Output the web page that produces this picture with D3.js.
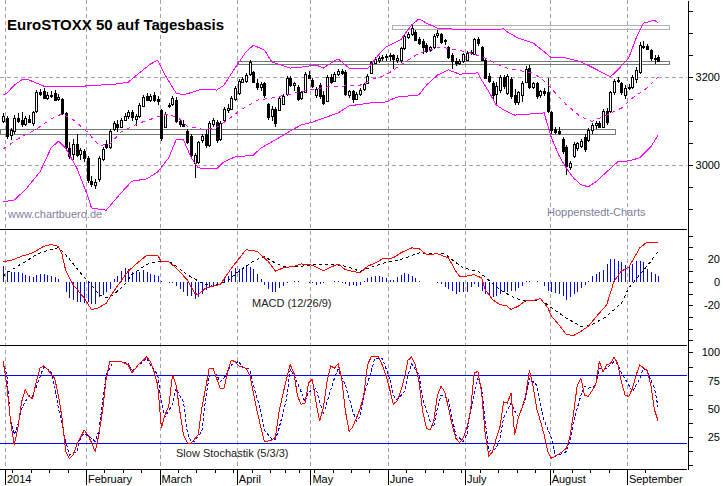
<!DOCTYPE html>
<html>
<head>
<meta charset="utf-8">
<script src="https://cdn.jsdelivr.net/npm/d3@7"></script>
<style>
  body { margin: 0; background: #fff; }
  svg { display: block; font-family: "Liberation Sans", Arial, sans-serif; }
</style>
</head>
<body>
<div id="chart"></div>
<script>
// Chart size and panel layout
const WIDTH = 723;
const HEIGHT = 486;
const PLOT_RIGHT = 687;
const MAIN = { top: 0, bottom: 229 };
const MACD = { top: 229, bottom: 345 };
const STOCH = { top: 345, bottom: 469 };

// Trading calendar (Dec 30 2013 .. Sep 11 2014, exchange holidays left out)
const firstDay = "2013-12-30";
const lastDay = "2014-09-11";
const holidays = ["2013-12-31", "2014-01-01", "2014-04-18", "2014-04-21", "2014-05-01"];

// Daily candles (index 0 = Dec 30 2013)
const opens = [
  3100,3108,3068,3078,3108,3104,3094,3106,3094,3122,
  3166,3170,3154,3160,3165,3152,3150,3118,3040,3025,
  3048,3026,3032,3016,2964,2956,2968,3016,3048,3042,
  3082,3094,3088,3104,3112,3120,3106,3112,3136,3158,
  3150,3160,3150,3126,3086,3136,3138,3148,3100,3094,
  3078,3066,3006,3006,3058,3072,3046,3094,3098,3060,
  3104,3126,3130,3150,3164,3190,3192,3206,3212,3188,
  3178,3186,3140,3112,3128,3126,3140,3162,3198,3182,
  3178,3152,3168,3206,3194,3160,3182,3160,3146,3200,
  3192,3208,3214,3212,3158,3168,3150,3162,3172,3188,
  3210,3234,3240,3244,3246,3248,3250,3240,3238,3266,
  3292,3298,3304,3288,3282,3274,3262,3268,3296,3298,
  3282,3268,3250,3236,3232,3236,3240,3256,3252,3286,
  3270,3240,3202,3188,3162,3170,3200,3166,3196,3160,
  3144,3160,3190,3222,3178,3186,3158,3168,3166,3120,
  3082,3078,3060,3042,2998,3020,3038,3044,3064,3058,
  3080,3092,3096,3088,3124,3122,3166,3192,3186,3160,
  3178,3178,3196,3212,3272,3272,3262,3244,3246
];
const highs = [
  3118,3112,3085,3114,3118,3120,3112,3114,3124,3172,
  3174,3176,3166,3168,3172,3162,3152,3120,3052,3060,
  3072,3040,3038,3022,2976,2968,3022,3042,3058,3082,
  3100,3102,3108,3118,3125,3126,3116,3142,3160,3164,
  3162,3166,3158,3128,3120,3142,3158,3156,3106,3102,
  3082,3072,3028,3056,3072,3080,3100,3108,3104,3100,
  3132,3140,3158,3180,3196,3200,3210,3240,3214,3196,
  3190,3190,3142,3134,3132,3158,3162,3202,3202,3190,
  3182,3170,3212,3214,3198,3178,3186,3170,3206,3208,
  3212,3218,3220,3216,3172,3172,3166,3176,3188,3208,
  3238,3246,3248,3250,3252,3256,3254,3250,3270,3298,
  3304,3318,3308,3292,3286,3278,3272,3298,3308,3300,
  3288,3272,3256,3244,3242,3256,3260,3262,3290,3292,
  3272,3244,3210,3192,3190,3206,3206,3208,3200,3174,
  3170,3192,3226,3228,3190,3190,3172,3176,3198,3124,
  3088,3086,3064,3046,3010,3052,3054,3060,3070,3084,
  3096,3100,3100,3128,3130,3170,3196,3200,3190,3182,
  3184,3206,3224,3280,3282,3276,3264,3250,3250
];
const lows = [
  3096,3060,3058,3072,3096,3088,3090,3096,3090,3118,
  3158,3150,3148,3152,3148,3146,3115,3035,3015,3012,
  3018,3012,3008,2960,2950,2945,2962,3010,3036,3038,
  3078,3076,3084,3100,3106,3100,3090,3108,3132,3146,
  3144,3144,3138,3055,3084,3130,3134,3096,3088,3086,
  3048,3018,2972,3002,3050,3040,3042,3086,3050,3056,
  3100,3118,3126,3146,3160,3186,3188,3204,3186,3172,
  3170,3154,3104,3100,3088,3124,3136,3158,3178,3168,
  3146,3148,3164,3196,3176,3154,3150,3136,3144,3184,
  3190,3204,3206,3158,3154,3142,3148,3158,3168,3184,
  3208,3230,3232,3238,3236,3238,3220,3232,3232,3262,
  3288,3294,3282,3274,3254,3256,3258,3264,3290,3276,
  3274,3242,3218,3226,3228,3232,3236,3250,3250,3272,
  3236,3196,3186,3150,3136,3164,3174,3160,3150,3136,
  3138,3144,3186,3174,3174,3150,3154,3158,3118,3072,
  3072,3068,3026,2978,2990,3016,3032,3040,3030,3054,
  3072,3082,3084,3084,3092,3118,3160,3186,3160,3150,
  3172,3174,3186,3208,3264,3262,3238,3230,3234
];
const closes = [
  3112,3068,3080,3108,3102,3094,3108,3100,3120,3166,
  3162,3154,3160,3157,3150,3156,3118,3040,3022,3048,
  3024,3034,3016,2966,2958,2962,3016,3038,3042,3078,
  3096,3088,3104,3112,3120,3108,3112,3138,3156,3150,
  3158,3148,3146,3062,3116,3138,3152,3100,3094,3090,
  3052,3022,3024,3052,3066,3046,3096,3102,3056,3096,
  3128,3130,3154,3176,3192,3196,3206,3234,3190,3178,
  3184,3158,3110,3128,3096,3154,3158,3198,3182,3186,
  3150,3166,3208,3200,3180,3174,3156,3142,3200,3188,
  3208,3214,3210,3162,3168,3150,3162,3172,3184,3204,
  3234,3242,3244,3246,3248,3250,3240,3244,3266,3294,
  3298,3312,3286,3278,3268,3260,3268,3294,3300,3280,
  3284,3246,3236,3232,3236,3252,3256,3258,3286,3276,
  3240,3200,3190,3160,3180,3200,3180,3204,3158,3144,
  3166,3188,3220,3178,3186,3156,3168,3164,3122,3080,
  3076,3074,3032,2998,3006,3048,3050,3056,3036,3080,
  3092,3096,3088,3124,3098,3166,3192,3194,3166,3176,
  3178,3200,3216,3274,3270,3266,3244,3242,3238
];

// Bollinger bands: [day index, price]
const bbUpper = [[0,3160],[1,3164],[3,3182],[5,3194],[7,3194],[11,3180],[14,3178],[22,3180],[31,3185],[34,3189],[37,3210],[40,3230],[42,3239],[44,3205],[47,3164],[49,3160],[54,3173],[58,3171],[60,3182],[63,3221],[66,3258],[68,3273],[71,3262],[73,3235],[78,3221],[81,3223],[85,3228],[87,3221],[91,3242],[92,3235],[94,3221],[99,3219],[102,3251],[104,3269],[108,3285],[111,3319],[113,3333],[115,3323],[118,3312],[125,3308],[131,3308],[136,3310],[137,3303],[140,3289],[144,3278],[147,3258],[149,3244],[153,3244],[157,3235],[160,3223],[163,3210],[165,3201],[167,3217],[170,3244],[172,3289],[174,3323],[177,3330],[178,3323]];
const bbMiddle = [[0,3037],[5,3065],[9,3082],[13,3105],[16,3117],[19,3104],[23,3075],[26,3045],[29,3048],[32,3076],[37,3096],[42,3110],[45,3117],[48,3105],[50,3089],[54,3082],[58,3086],[61,3103],[64,3123],[69,3148],[73,3153],[77,3160],[83,3171],[88,3178],[92,3180],[97,3182],[101,3198],[104,3205],[110,3239],[113,3255],[119,3269],[123,3262],[126,3258],[131,3244],[136,3223],[139,3217],[144,3210],[147,3192],[150,3165],[153,3138],[157,3110],[160,3100],[164,3114],[168,3130],[171,3153],[175,3176],[178,3201]];
const bbLower = [[0,2917],[3,2921],[6,2944],[10,2985],[13,3039],[15,3055],[17,3039],[20,2994],[23,2930],[24,2903],[28,2898],[32,2937],[35,2964],[39,2969],[42,2985],[45,3017],[47,3058],[49,3058],[51,3019],[53,2994],[58,2992],[60,3008],[63,3019],[68,3023],[70,3039],[74,3058],[77,3073],[81,3092],[84,3098],[88,3110],[91,3119],[94,3135],[100,3142],[104,3144],[107,3155],[113,3160],[115,3182],[118,3205],[121,3217],[124,3207],[129,3210],[130,3194],[132,3167],[134,3137],[136,3126],[139,3114],[147,3119],[149,3062],[151,3023],[153,2994],[155,2971],[157,2956],[159,2951],[161,2962],[164,2985],[167,3008],[170,3010],[173,3017],[176,3042],[178,3069]];

// Support / resistance zones
const zoneFrom = [105.7, 63.5, -0.9];
const zoneTo = [181, 181, 166.2];
const zoneLow = [3309, 3230, 3071];
const zoneHigh = [3318, 3237, 3082];

// MACD (12/26/9): [day index, value]
const macdLine = [[0,18],[2,18.6],[5,22.4],[8,25.3],[11,31],[13,32.4],[15,31],[16,24],[17,10],[19,-2],[22,-13.5],[24,-23.6],[26,-22],[28,-18],[30,-8],[32,1],[34,9.6],[37,18],[39,23.3],[42,23.3],[43,17.5],[45,17.5],[47,12.3],[50,2.2],[52,-9.3],[53,-10.8],[55,-5],[59,-2],[62,12],[66,28],[69,26.7],[72,18],[74,9.6],[76,12.3],[79,13.8],[81,15.8],[84,14.7],[87,10],[91,15.8],[93,10.8],[97,8],[99,13.7],[102,18],[103,20.3],[106,21],[108,25.3],[111,29.6],[113,29],[115,24],[118,24.5],[121,21],[123,9.6],[124,5.3],[126,5.3],[128,6.6],[130,3.7],[131,-6.4],[133,-15],[135,-19.3],[137,-20.6],[138,-23.6],[140,-20.6],[142,-15.8],[144,-15.8],[146,-14],[148,-22],[149,-29.3],[151,-36.6],[153,-45],[155,-46],[157,-42.3],[159,-38],[162,-26.6],[164,-19.5],[166,1],[168,9.6],[170,13],[173,29.6],[175,34.7],[178,34]];
const macdSignal = [[0,5],[1,8],[4,14],[7,19.6],[9,23.9],[12,27.4],[15,29.7],[16,27],[18,20],[21,8],[24,-2],[26,-10.8],[28,-13.6],[30,-10.8],[33,-2],[35,6.5],[39,15.3],[42,18.1],[45,18.1],[47,13.8],[50,6.5],[54,-0.6],[57,-3.5],[61,1],[64,9.5],[68,18.1],[71,22.4],[73,18.1],[76,13.8],[81,13.8],[85,15.3],[90,15.3],[93,13.8],[97,9.5],[100,12.9],[104,17.2],[108,19.5],[113,25.3],[115,24.4],[120,24.4],[122,19.5],[125,12.3],[129,9.5],[131,4.3],[135,-6.4],[139,-13.6],[142,-16.5],[146,-15],[149,-22],[153,-30.8],[157,-38],[160,-36.6],[164,-29.4],[168,-18],[170,-5],[173,6.5],[176,18],[178,26.8]];
const macdHist = [
  14,10,9,8.8,8.5,8.2,6.5,5,4.5,5.9,
  7,7,6.5,5.3,4.5,3,0.5,-8.4,-14,-15.7,
  -16.6,-17,-17.7,-16.6,-18.5,-18.5,-12.8,-11.4,-8.4,-5.6,
  3,5,10,12,11,9,10,9,10.6,9,
  7,6.3,5.7,1,0.5,-0.5,-1,-3,-5.7,-8.6,
  -11.5,-12,-14.4,-13,-10,-7,-4.3,-2.9,-1.5,0.5,
  2.9,5.7,10,12,11.5,11.5,13.8,13,11.5,7.2,
  2.9,-2,-5.7,-8.6,-8.6,-5,-2.9,-1,0.5,1,
  1,0.5,0.3,-0.5,-1,-2.3,-1.5,-1,0,0.5,
  1.4,1,-0.5,-1.5,-2.9,-2,-2.9,-2,1,3.4,
  4.3,5,5.7,4.5,3.4,2.3,2.3,4.3,6.3,7.8,
  7,5.7,3.4,1.5,0.5,0,0.3,0.2,-0.5,-1.4,
  -4.3,-5.5,-7.2,-10,-8.6,-8.6,-8.6,-4.3,-1.4,-4,
  -7.2,-10,-11,-13,-11.5,-10,-8.6,-8.6,-7.2,-7.2,
  -5,-3.4,1.4,1.4,0.6,1.4,0.5,-3,-7.2,-8.6,
  -9.5,-10,-11.5,-15,-13,-10,-8.6,-5.2,-2.3,1.4,
  5.7,7,8.6,10.9,15.8,20,20,18.7,17.2,15,
  14.4,16,18.7,18.7,17.2,11.5,9.2,7,5.7
];

// Slow Stochastik (5/3/3): [day index, value]
const stochK = [[0,92],[1,71],[2,39],[3,18],[4,33],[5,56],[6,67],[7,61],[8,59],[9,74],[10,86],[11,88],[12,85],[14,77],[15,62],[16,42],[17,12],[18,6],[19,9],[20,18],[22,31],[23,27],[24,20],[25,12],[26,27],[27,48],[28,77],[29,92],[31,92],[32,92],[34,89],[35,82],[37,90],[39,96],[40,92],[41,83],[42,71],[43,33],[44,45],[45,52],[46,80],[47,71],[48,48],[49,27],[50,20],[51,19],[53,27],[54,51],[55,68],[56,86],[57,86],[59,68],[60,68],[61,83],[62,93],[63,92],[64,88],[66,86],[67,80],[69,48],[70,34],[71,21],[73,22],[74,25],[75,48],[77,77],[78,89],[79,82],[80,61],[81,54],[82,55],[83,73],[84,76],[85,56],[86,39],[87,51],[88,74],[89,88],[90,86],[91,90],[92,77],[93,48],[94,30],[95,34],[97,50],[98,62],[99,89],[100,96],[102,96],[103,89],[104,80],[105,68],[106,54],[107,57],[108,65],[109,77],[110,93],[111,96],[112,89],[113,74],[114,48],[115,33],[116,31],[117,39],[118,62],[119,70],[120,65],[121,51],[122,36],[123,24],[124,20],[125,24],[126,33],[127,48],[128,82],[129,83],[130,65],[131,27],[132,8],[133,12],[134,24],[135,34],[136,56],[137,55],[138,64],[139,27],[140,42],[141,51],[142,62],[143,84],[144,70],[145,50],[146,39],[147,27],[148,12],[149,6],[150,8],[152,12],[153,15],[154,25],[155,46],[156,71],[157,77],[158,62],[159,61],[161,71],[162,92],[163,83],[164,89],[165,90],[166,96],[167,90],[168,74],[169,62],[170,61],[171,68],[172,80],[173,89],[175,84],[176,71],[177,49],[178,39]];
const stochD = [[0,92],[1,80],[2,40],[3,27],[4,36],[5,50],[7,62],[8,61],[10,78],[11,87],[13,83],[14,70],[15,51],[17,21],[18,9],[20,12],[21,24],[22,28],[24,24],[25,21],[26,30],[27,56],[28,80],[30,92],[32,92],[34,90],[35,83],[36,86],[38,92],[39,95],[40,89],[42,80],[43,55],[44,43],[46,54],[47,68],[49,56],[50,30],[51,21],[52,21],[54,30],[55,59],[56,79],[58,80],[59,74],[60,77],[62,89],[64,92],[65,87],[67,85],[68,71],[70,48],[71,31],[73,23],[74,23],[75,33],[77,59],[78,85],[79,80],[81,65],[82,56],[83,65],[85,68],[87,45],[88,56],[90,77],[91,85],[93,71],[95,48],[96,39],[97,43],[98,62],[100,83],[101,95],[103,95],[104,86],[105,77],[106,62],[107,58],[109,65],[110,80],[111,90],[113,80],[114,59],[116,39],[117,34],[118,51],[119,62],[121,59],[122,42],[123,27],[125,21],[126,27],[127,48],[129,77],[130,68],[131,39],[132,12],[134,15],[135,24],[136,42],[138,55],[139,48],[140,43],[142,59],[143,77],[145,71],[146,54],[147,40],[149,24],[150,8],[151,9],[153,12],[154,21],[155,39],[157,62],[158,70],[159,68],[161,71],[162,86],[164,86],[166,92],[167,90],[168,82],[170,71],[171,65],[173,77],[174,86],[175,83],[177,68],[178,51]];

// Axis ticks and labels
const priceTicks = d3.range(2900, 3351, 50);
const priceLabels = [3000, 3200];
const macdTicks = d3.range(-50, 41, 10);
const macdLabels = [-20, 0, 20];
const stochTicks = d3.range(0, 101, 12.5);
const stochLabels = [25, 50, 75, 100];
const stochLevels = [20, 80];

const GRID = "#a4a0a4";

// ---------------------------------------------------------------
const svg = d3.select("#chart").append("svg")
  .attr("width", WIDTH).attr("height", HEIGHT);

const parse = d3.utcParse("%Y-%m-%d");
const fmt = d3.utcFormat("%Y-%m-%d");
const dates = d3.utcDays(parse(firstDay), d3.utcDay.offset(parse(lastDay), 1))
  .filter(d => d.getUTCDay() % 6 !== 0 && !holidays.includes(fmt(d)));

// one trading day = 3.68 px, Jan 2 starts at x = 5
const xScale = d3.scaleLinear()
  .domain([0.5 - 5 / 3.68, 0.5 + (PLOT_RIGHT - 5) / 3.68])
  .range([0, PLOT_RIGHT]);

const yPrice = d3.scaleLinear().domain([2855.2, 3375.7]).range([MAIN.bottom, MAIN.top]);
const yMacd = d3.scaleLinear().domain([-54.1, 45.9]).range([MACD.bottom, MACD.top]);
const yStoch = d3.scaleLinear().domain([-3.4, 106.6]).range([STOCH.bottom, STOCH.top]);

const px = k => Math.round(xScale(k)) + 0.5;

// clip paths
const defs = svg.append("defs");
[["clipMain", MAIN], ["clipMacd", MACD], ["clipStoch", STOCH]].forEach(([id, p]) => {
  defs.append("clipPath").attr("id", id).append("rect")
    .attr("x", 0).attr("y", p.top).attr("width", PLOT_RIGHT).attr("height", p.bottom - p.top);
});

// month and week boundaries
const monthStarts = [];
const weekStarts = [];
dates.forEach((d, k) => {
  if (k === 0) return;
  if (d.getUTCMonth() !== dates[k - 1].getUTCMonth()) monthStarts.push(k);
  else if (+d3.utcMonday.floor(d) !== +d3.utcMonday.floor(dates[k - 1])) weekStarts.push(k);
});

// vertical grid
svg.append("g").selectAll("line").data(monthStarts).join("line")
  .attr("x1", k => px(k - 0.5)).attr("x2", k => px(k - 0.5))
  .attr("y1", MAIN.top).attr("y2", STOCH.bottom)
  .attr("stroke", GRID).attr("stroke-dasharray", "4,3")
  .attr("shape-rendering", "crispEdges");

// horizontal grid in price panel
svg.append("g").selectAll("line").data(priceLabels).join("line")
  .attr("x1", 0).attr("x2", PLOT_RIGHT)
  .attr("y1", v => Math.round(yPrice(v)) + 0.5).attr("y2", v => Math.round(yPrice(v)) + 0.5)
  .attr("stroke", GRID).attr("stroke-dasharray", "4,3")
  .attr("shape-rendering", "crispEdges");

// ---------------- price panel ----------------
const main = svg.append("g").attr("clip-path", "url(#clipMain)");

// zones
main.append("g").selectAll("rect").data(zoneFrom).join("rect")
  .attr("x", (d, i) => Math.round(xScale(zoneFrom[i])) + 0.5)
  .attr("width", (d, i) => Math.round(xScale(zoneTo[i]) - xScale(zoneFrom[i])))
  .attr("y", (d, i) => Math.round(yPrice(zoneHigh[i])) + 0.5)
  .attr("height", (d, i) => Math.round(yPrice(zoneLow[i]) - yPrice(zoneHigh[i])))
  .attr("fill", "none")
  .attr("stroke", (d, i) => i === 0 ? "#b0b0b0" : "#6f7f6f")
  .attr("stroke-width", 1)
  .attr("shape-rendering", "crispEdges");

// candles
const candles = d3.range(opens.length).map(k => ({
  k, o: opens[k], h: highs[k], l: lows[k], c: closes[k]
}));
const cg = main.append("g").attr("shape-rendering", "crispEdges");
cg.selectAll("line").data(candles).join("line")
  .attr("x1", d => px(d.k)).attr("x2", d => px(d.k))
  .attr("y1", d => Math.round(yPrice(d.h))).attr("y2", d => Math.round(yPrice(d.l)))
  .attr("stroke", "#000");
cg.selectAll("rect").data(candles).join("rect")
  .attr("x", d => px(d.k) - 1)
  .attr("width", 2)
  .attr("y", d => Math.round(yPrice(Math.max(d.o, d.c))) + 0.5)
  .attr("height", d => Math.max(1, Math.round(Math.abs(yPrice(d.o) - yPrice(d.c)))))
  .attr("fill", d => d.c >= d.o ? "#fff" : "#000")
  .attr("stroke", "#000");

// Bollinger bands
const priceLine = d3.line().x(d => xScale(d[0])).y(d => yPrice(d[1]));
[[bbUpper, null], [bbLower, null], [bbMiddle, "4,4"]].forEach(([data, dash]) => {
  main.append("path").datum(data)
    .attr("d", priceLine)
    .attr("fill", "none").attr("stroke", "#ff00ff").attr("stroke-width", 1)
    .attr("stroke-dasharray", dash)
    .attr("shape-rendering", "crispEdges");
});

// ---------------- MACD panel ----------------
const macdG = svg.append("g").attr("clip-path", "url(#clipMacd)");
macdG.append("g").attr("shape-rendering", "crispEdges")
  .selectAll("line").data(macdHist).join("line")
  .attr("x1", (v, k) => px(k)).attr("x2", (v, k) => px(k))
  .attr("y1", Math.round(yMacd(0)))
  .attr("y2", v => Math.round(yMacd(v)))
  .attr("stroke", "#0000ff");

const macdPath = d3.line().x(d => xScale(d[0])).y(d => yMacd(d[1]));
macdG.append("path").datum(macdSignal).attr("d", macdPath)
  .attr("fill", "none").attr("stroke", "#000").attr("stroke-dasharray", "3,3")
  .attr("shape-rendering", "crispEdges");
macdG.append("path").datum(macdLine).attr("d", macdPath)
  .attr("fill", "none").attr("stroke", "#ff0000")
  .attr("shape-rendering", "crispEdges");

// ---------------- Stochastic panel ----------------
const stochG = svg.append("g").attr("clip-path", "url(#clipStoch)");
stochG.append("g").selectAll("line").data(stochLevels).join("line")
  .attr("x1", 0).attr("x2", PLOT_RIGHT)
  .attr("y1", v => Math.round(yStoch(v)) + 0.5).attr("y2", v => Math.round(yStoch(v)) + 0.5)
  .attr("stroke", "#0000ff").attr("shape-rendering", "crispEdges");

const stochPath = d3.line().x(d => xScale(d[0])).y(d => yStoch(d[1]));
stochG.append("path").datum(stochD).attr("d", stochPath)
  .attr("fill", "none").attr("stroke", "#0000ff").attr("stroke-dasharray", "3,2")
  .attr("shape-rendering", "crispEdges");
stochG.append("path").datum(stochK).attr("d", stochPath)
  .attr("fill", "none").attr("stroke", "#ff0000")
  .attr("shape-rendering", "crispEdges");

// ---------------- frames ----------------
svg.append("g").selectAll("line").data([MAIN.bottom, MACD.bottom, STOCH.bottom]).join("line")
  .attr("x1", 0).attr("x2", PLOT_RIGHT)
  .attr("y1", y => y + 0.5).attr("y2", y => y + 0.5)
  .attr("stroke", "#000").attr("shape-rendering", "crispEdges");

// right axes
function rightAxis(scale, ticks, labels, fmtLabel) {
  const g = svg.append("g").attr("transform", `translate(${PLOT_RIGHT + 0.5},0)`);
  g.call(d3.axisRight(scale).tickValues(ticks).tickSize(5).tickSizeOuter(0).tickFormat(""));
  g.selectAll("path, line").attr("stroke", "#000").attr("shape-rendering", "crispEdges");
  svg.append("g").selectAll("text").data(labels).join("text")
    .attr("x", 720).attr("y", v => scale(v)).attr("dy", "0.36em")
    .attr("text-anchor", "end").attr("font-size", 11).attr("fill", "#000")
    .text(fmtLabel);
}
rightAxis(yPrice, priceTicks, priceLabels, v => v);
rightAxis(yMacd, macdTicks, macdLabels, v => v);
rightAxis(yStoch, stochTicks, stochLabels, v => v);

// bottom time axis
const axisG = svg.append("g").attr("shape-rendering", "crispEdges");
axisG.selectAll("line.week").data(weekStarts).join("line").attr("class", "week")
  .attr("x1", k => px(k - 0.5)).attr("x2", k => px(k - 0.5))
  .attr("y1", STOCH.bottom).attr("y2", STOCH.bottom + 4)
  .attr("stroke", "#000");
axisG.selectAll("line.month").data(monthStarts).join("line").attr("class", "month")
  .attr("x1", k => px(k - 0.5)).attr("x2", k => px(k - 0.5))
  .attr("y1", STOCH.bottom).attr("y2", STOCH.bottom + 16)
  .attr("stroke", "#000");
svg.append("g").selectAll("text").data(monthStarts).join("text")
  .attr("x", k => xScale(k - 0.5) + 2).attr("y", 483)
  .attr("font-size", 11).attr("fill", "#000")
  .text(k => dates[k].getUTCMonth() === 0 ? "2014" : d3.utcFormat("%B")(dates[k]));

// ---------------- texts ----------------
svg.append("text").attr("x", 7).attr("y", 30)
  .attr("font-size", 15).attr("font-weight", "bold").attr("fill", "#000")
  .text("EuroSTOXX 50 auf Tagesbasis");
svg.append("text").attr("x", 8).attr("y", 218)
  .attr("font-size", 11).attr("fill", "#80809a").text("www.chartbuero.de");
svg.append("text").attr("x", 547).attr("y", 216)
  .attr("font-size", 11).attr("fill", "#80809a").text("Hoppenstedt-Charts");
svg.append("text").attr("x", 252).attr("y", 307)
  .attr("font-size", 11).attr("fill", "#222").text("MACD (12/26/9)");
svg.append("text").attr("x", 176).attr("y", 457)
  .attr("font-size", 11).attr("fill", "#222").text("Slow Stochastik (5/3/3)");
</script>
</body>
</html>
